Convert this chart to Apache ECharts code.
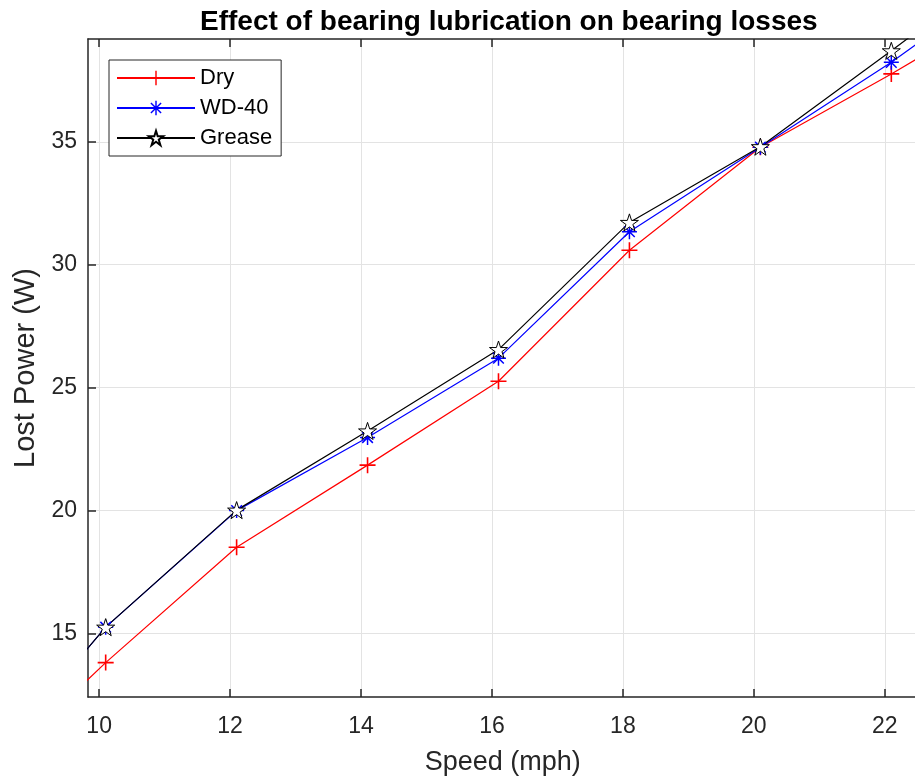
<!DOCTYPE html>
<html>
<head>
<meta charset="utf-8">
<script src="https://cdn.jsdelivr.net/npm/echarts@6/dist/echarts.min.js"></script>
<style>
  html, body { margin: 0; padding: 0; background: #fff; }
  #chart { width: 915px; height: 776px; }
</style>
</head>
<body>
<div id="chart"></div>
<script>
// speed points (first and last lie just outside the visible axes)
const speed = [8.1, 10.1, 12.1, 14.1, 16.1, 18.1, 20.1, 22.1, 24.1];
const dry = [8.76, 13.82, 18.51, 21.85, 25.26, 30.59, 34.78, 37.76, 40.9];
const wd40 = [9.0, 15.26, 20.0, 22.97, 26.2, 31.34, 34.78, 38.23, 42.1];
const grease = [9.0, 15.26, 20.02, 23.24, 26.55, 31.72, 34.8, 38.7, 42.7];

const xTicks = [10, 12, 14, 16, 18, 20, 22];
const yTicks = [15, 20, 25, 30, 35];

const axisColor = "#262626";
const font = "Liberation Sans, Arial, sans-serif";

// matlab-like markers
const plusPath = "path://M45,0H55V100H45Z M0,45H100V55H0Z";
const asteriskPath =
  "path://M45,0H55V100H45Z M0,45H100V55H0Z " +
  "M18.1,11.1L88.9,81.9L81.9,88.9L11.1,18.1Z " +
  "M81.9,11.1L88.9,18.1L18.1,88.9L11.1,81.9Z";
const starPath =
  "path://M50,0L61.23,34.55L97.55,34.55L68.17,55.9L79.39,90.45L50,69.1L20.61,90.45L31.83,55.9L2.45,34.55L38.77,34.55Z";

const zip = (xs, ys) => xs.map((x, i) => [x, ys[i]]);

const chart = echarts.init(document.getElementById("chart"));

const tickStyle = { color: axisColor, width: 1.5 };

const option = {
  animation: false,
  backgroundColor: "#fff",
  title: {
    text: "Effect of bearing lubrication on bearing losses",
    left: 195,
    top: 3,
    textStyle: {
      fontFamily: font,
      fontWeight: "bold",
      fontSize: 28,
      color: "#000",
    },
  },
  legend: {
    orient: "vertical",
    left: 109,
    top: 60,
    padding: [6, 9, 6, 7],
    itemGap: 6,
    itemWidth: 78,
    itemHeight: 18,
    backgroundColor: "#fff",
    borderColor: axisColor,
    borderWidth: 1,
    borderRadius: 0,
    textStyle: {
      fontFamily: font,
      fontSize: 22,
      lineHeight: 24,
      color: "#000",
    },
    data: ["Dry", "WD-40", "Grease"],
  },
  grid: {
    left: 88,
    top: 39,
    width: 829.5,
    height: 658,
    containLabel: false,
    outerBoundsMode: "none",
  },
  xAxis: [
    {
      type: "value",
      min: 9.83,
      max: 22.5,
      position: "bottom",
      name: "Speed (mph)",
      nameLocation: "middle",
      nameGap: 52,
      nameTextStyle: { fontFamily: font, fontSize: 27, color: axisColor },
      axisLine: { show: true, onZero: false, lineStyle: tickStyle },
      axisTick: {
        show: true,
        inside: true,
        length: 8,
        customValues: xTicks,
        lineStyle: tickStyle,
      },
      axisLabel: {
        customValues: xTicks,
        margin: 18,
        fontFamily: font,
        fontSize: 23,
        color: axisColor,
      },
      splitLine: { show: true, lineStyle: { color: "#e3e3e3", width: 1 } },
    },
    {
      type: "value",
      min: 9.83,
      max: 22.5,
      position: "top",
      axisLine: { show: true, onZero: false, lineStyle: tickStyle },
      axisTick: {
        show: true,
        inside: true,
        length: 8,
        customValues: xTicks,
        lineStyle: tickStyle,
      },
      axisLabel: { show: false },
      splitLine: { show: false },
    },
  ],
  yAxis: {
    type: "value",
    min: 12.42,
    max: 39.18,
    name: "Lost Power (W)",
    nameLocation: "middle",
    nameGap: 47,
    nameTextStyle: { fontFamily: font, fontSize: 29, color: axisColor },
    axisLine: { show: true, onZero: false, lineStyle: tickStyle },
    axisTick: {
      show: true,
      inside: true,
      length: 8,
      customValues: yTicks,
      lineStyle: tickStyle,
    },
    axisLabel: {
      customValues: yTicks,
      margin: 11,
      fontFamily: font,
      fontSize: 23,
      color: axisColor,
    },
    splitLine: { show: true, lineStyle: { color: "#e3e3e3", width: 1 } },
  },
  series: [
    {
      name: "Dry",
      type: "line",
      data: zip(speed, dry),
      clip: true,
      symbol: plusPath,
      symbolSize: 16,
      showAllSymbol: true,
      lineStyle: { color: "#ff0000", width: 1.2 },
      itemStyle: { color: "#ff0000", borderWidth: 0 },
    },
    {
      name: "WD-40",
      type: "line",
      data: zip(speed, wd40),
      clip: true,
      symbol: asteriskPath,
      symbolSize: 15,
      showAllSymbol: true,
      lineStyle: { color: "#0000ff", width: 1.2 },
      itemStyle: { color: "#0000ff", borderWidth: 0 },
    },
    {
      name: "Grease",
      type: "line",
      data: zip(speed, grease),
      clip: true,
      symbol: starPath,
      symbolSize: 18,
      symbolKeepAspect: true,
      showAllSymbol: true,
      lineStyle: { color: "#000000", width: 1.2 },
      itemStyle: { color: "#ffffff", borderColor: "#000000", borderWidth: 1 },
    },
  ],
};

chart.setOption(option);
</script>
</body>
</html>
